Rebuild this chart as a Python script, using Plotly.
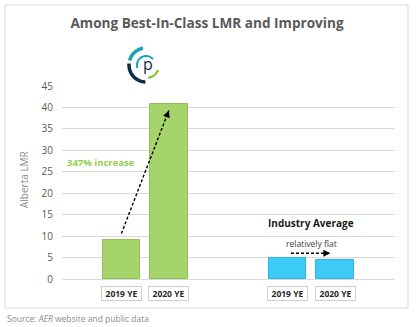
import numpy as np
import plotly.graph_objects as go

# ---- data ----
categories = ["2019 YE", "2020 YE"]
company_lmr = [9.1, 40.9]
industry_lmr = [4.8, 4.5]
y_ticks = [0, 5, 10, 15, 20, 25, 30, 35, 40, 45]
title_text = "Among Best-In-Class LMR and Improving"
increase_label = "347% increase"
flat_label = "relatively flat"
group_label = "Industry Average"
y_title = "Alberta LMR"
source_text = "Source: <i>AER</i> website and public data"

# ---- layout geometry ----
W, H = 416, 327
ML, MR, MT, MB = 62, 21, 86, 48
PW, PH = W - ML - MR, H - MT - MB
X0, X1 = -1.25, 5.76
Y0, Y1 = 0, 45

def px(x):
    return (x - ML) / PW

def py(y):
    return (H - MB - y) / PH

company_x = [0, 1]
industry_x = [3.5, 4.5]
bar_w = 0.79

GREEN = "#a5d46a"
GREEN_EDGE = "#8fbf55"
BLUE = "#3ccbf7"
BLUE_EDGE = "#2db4e0"
FONT = "Open Sans"

fig = go.Figure()
fig.add_trace(go.Bar(x=company_x, y=company_lmr, width=bar_w,
                     marker=dict(color=GREEN, line=dict(color=GREEN_EDGE, width=1)),
                     showlegend=False, hoverinfo="skip"))
fig.add_trace(go.Bar(x=industry_x, y=industry_lmr, width=bar_w,
                     marker=dict(color=BLUE, line=dict(color=BLUE_EDGE, width=1)),
                     showlegend=False, hoverinfo="skip"))

annotations = []

def dashed_arrow(xa, ya, xb, yb):
    fig.add_trace(go.Scatter(
        x=[xa, xb], y=[ya, yb], mode="lines",
        line=dict(color="black", width=1.4, dash="3px,2px"),
        showlegend=False, hoverinfo="skip"))
    # arrowhead direction in pixels
    dxp = (xb - xa) * PW / (X1 - X0)
    dyp = (yb - ya) * PH / (Y1 - Y0)
    n = np.hypot(dxp, dyp)
    L = 7
    annotations.append(dict(
        x=xb, y=yb, xref="x", yref="y", text="", showarrow=True,
        ax=-dxp / n * L, ay=dyp / n * L, arrowhead=2, arrowsize=1,
        arrowwidth=1.4, arrowcolor="black", standoff=0))

dashed_arrow(company_x[0], company_lmr[0] + 1.5, company_x[1], company_lmr[1] - 1.6)
flat_y = max(industry_lmr) + 1.2
dashed_arrow(industry_x[0] + 0.07, flat_y, industry_x[1] - 0.1, flat_y)

# category label boxes
for xs in (company_x, industry_x):
    for xv, lab in zip(xs, categories):
        annotations.append(dict(
            x=xv, y=py(293), xref="x", yref="paper", yanchor="middle",
            text="<b>" + lab + "</b>",
            showarrow=False, font=dict(family=FONT, size=8.5, color="#262626"),
            bordercolor="#d0d0d0", borderwidth=1, borderpad=1,
            width=37, height=11, bgcolor="white"))

mid_ind = (industry_x[0] + industry_x[1]) / 2
annotations += [
    dict(x=company_x[0] - 0.42, y=27.2, xref="x", yref="y", text="<b>" + increase_label + "</b>",
         showarrow=False, font=dict(family=FONT, size=9.5, color="#92d050")),
    dict(x=mid_ind, y=13, xref="x", yref="y", text="<b>" + group_label + "</b>",
         showarrow=False, font=dict(family=FONT, size=10, color="#1a1a1a")),
    dict(x=mid_ind, y=8.2, xref="x", yref="y", text=flat_label,
         showarrow=False, font=dict(family=FONT, size=8.5, color="#404040")),
    dict(x=px(24), y=py(180), xref="paper", yref="paper", text=y_title, textangle=-90,
         xanchor="center", yanchor="middle",
         showarrow=False, font=dict(family=FONT, size=10, color="#8c8c8c")),
    dict(x=px(5), y=py(318), xref="paper", yref="paper", text=source_text,
         xanchor="left", yanchor="middle",
         showarrow=False, font=dict(family=FONT, size=8.5, color="#8c8c8c")),
    dict(x=px(148), y=py(64), xref="paper", yref="paper", text="p",
         xanchor="center", yanchor="middle",
         showarrow=False, font=dict(family=FONT, size=16, color="#0d2b45")),
]

# logo arcs
def arc(cx, cy, r, a0, a1):
    t = np.radians(np.linspace(a0, a1, 30))
    xs = cx + r * np.cos(t)
    ys = cy - r * np.sin(t)
    pts = [f"{px(x):.5f},{py(y):.5f}" for x, y in zip(xs, ys)]
    return "M " + " L ".join(pts)

cx, cy = 146, 65
shapes = [
    dict(type="path", path=arc(cx, cy, 17, 100, 165), xref="paper", yref="paper",
         line=dict(color="#17a2b8", width=3.5)),
    dict(type="path", path=arc(cx, cy, 17, 175, 268), xref="paper", yref="paper",
         line=dict(color="#0d2b45", width=3.5)),
    dict(type="path", path=arc(cx, cy, 13, 280, 338), xref="paper", yref="paper",
         line=dict(color="#8dc63f", width=2.5)),
    dict(type="path", path=arc(cx, cy, 9, 40, 200), xref="paper", yref="paper",
         line=dict(color="#17a2b8", width=2)),
    # outer frame
    dict(type="rect", xref="paper", yref="paper", x0=px(5), x1=px(408), y0=py(308), y1=py(5),
         line=dict(color="#d9d9d9", width=1), layer="below"),
]

fig.update_layout(
    width=W, height=H,
    margin=dict(l=ML, r=MR, t=MT, b=MB),
    paper_bgcolor="white", plot_bgcolor="white",
    title=dict(text="<b>" + title_text + "</b>", x=207 / W, xanchor="center",
               y=1 - 23 / H, yanchor="middle",
               font=dict(family=FONT, size=13.6, color="#595959")),
    xaxis=dict(range=[X0, X1], showticklabels=False, showgrid=False,
               zeroline=False, showline=False, fixedrange=True),
    yaxis=dict(range=[Y0, Y1], tickvals=y_ticks, showgrid=True, gridcolor="#d9d9d9",
               gridwidth=1, zeroline=True, zerolinecolor="#d9d9d9", zerolinewidth=1,
               showline=False, ticks="", ticklabelstandoff=8,
               tickfont=dict(family=FONT, size=10, color="#595959")),
    annotations=annotations,
    shapes=shapes,
    bargap=0,
)

fig.write_html("out.html")
